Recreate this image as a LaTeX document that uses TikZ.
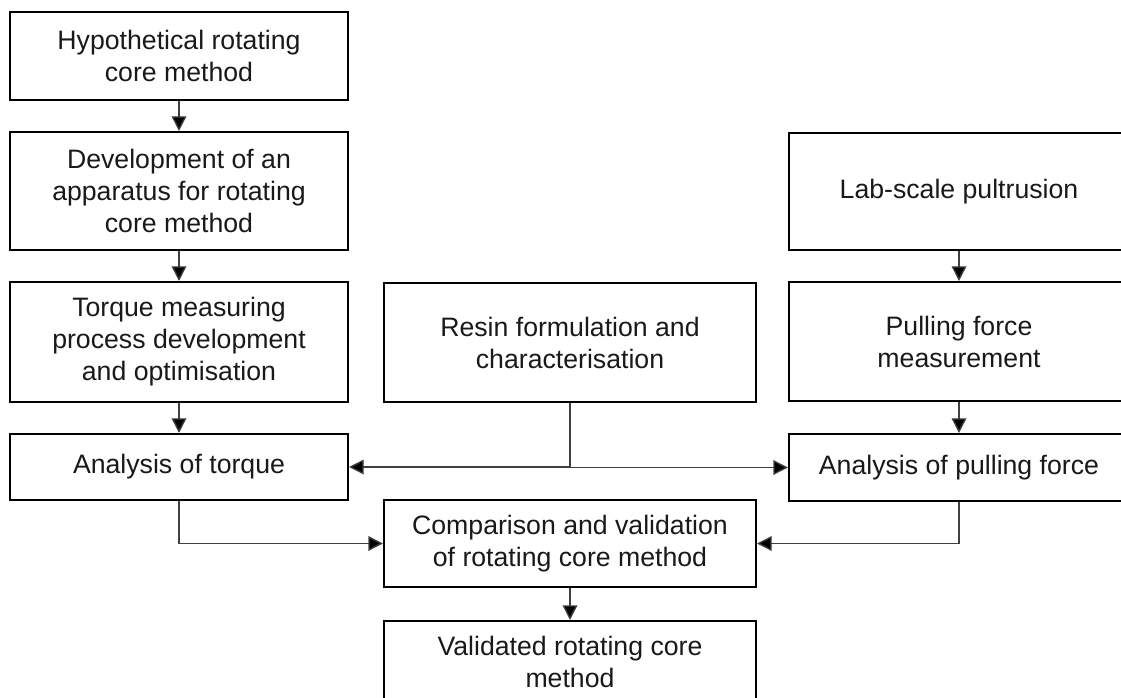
\documentclass[tikz,border=0pt]{standalone}
\usepackage{fontspec}
\setmainfont{Liberation Sans}
\usetikzlibrary{arrows.meta}
\tikzset{
  blk/.style={draw=black, line width=1.5pt, align=center, inner sep=0pt,
    font=\fontsize{20}{24}\selectfont, text=black!90},
  conn/.style={draw=black!75, line width=1pt,
    -{Triangle[length=11pt,width=11pt,fill=black]}},
}
\begin{document}
\begin{tikzpicture}[x=0.75pt,y=-0.75pt]
\useasboundingbox (0,0) rectangle (1121,698);
\clip (0,0) rectangle (1121,698);
% left column
\node[blk, minimum width=338*0.75pt, minimum height=88*0.75pt] (b1) at (179,56) {Hypothetical rotating\\core method};
\node[blk, minimum width=338*0.75pt, minimum height=118*0.75pt] (b2) at (179,191) {Development of an\\apparatus for rotating\\core method};
\node[blk, minimum width=338*0.75pt, minimum height=120*0.75pt] (b3) at (179,342) {Torque measuring\\process development\\and optimisation};
\node[blk, minimum width=338*0.75pt, minimum height=66*0.75pt] (b4) at (179,467) {Analysis of torque};
% middle column
\node[blk, minimum width=372*0.75pt, minimum height=119*0.75pt] (r) at (570,342.5) {Resin formulation and\\characterisation};
\node[blk, minimum width=372*0.75pt, minimum height=87*0.75pt] (c) at (570,543.5) {Comparison and validation\\of rotating core method};
\node[blk, minimum width=372*0.75pt, minimum height=82*0.75pt] (v) at (570,662) {Validated rotating core\\method};
% right column
\node[blk, minimum width=340*0.75pt, minimum height=117*0.75pt] (l1) at (959,191.5) {Lab-scale pultrusion};
\node[blk, minimum width=340*0.75pt, minimum height=119*0.75pt] (l2) at (959,341.5) {Pulling force\\measurement};
\node[blk, minimum width=340*0.75pt, minimum height=67*0.75pt] (l3) at (959,467.5) {Analysis of pulling force};
% connectors
\draw[conn] (b1.south) -- (b2.north);
\draw[conn] (b2.south) -- (b3.north);
\draw[conn] (b3.south) -- (b4.north);
\draw[conn] (l1.south) -- (l2.north);
\draw[conn] (l2.south) -- (l3.north);
\draw[conn] (r.south) |- (b4.east);
\draw[conn] (r.south) |- (l3.west);
\draw[conn] (b4.south) |- (c.west);
\draw[conn] (l3.south) |- (c.east);
\draw[conn] (c.south) -- (v.north);
\end{tikzpicture}
\end{document}
